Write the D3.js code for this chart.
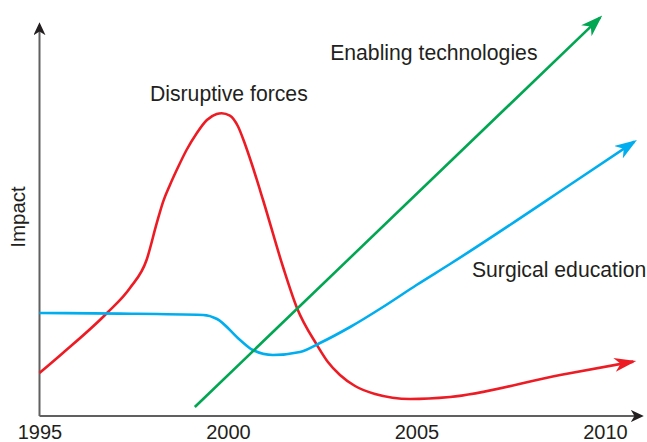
<!DOCTYPE html>
<html>
<head>
<meta charset="utf-8">
<script src="https://cdn.jsdelivr.net/npm/d3@7"></script>
<style>
  body { margin: 0; background: #fff; }
  svg { display: block; }
</style>
</head>
<body>
<div class="chart"></div>
<script>
// values: [year, impact]
const yearTicks = [1995, 2000, 2005, 2010];

const disruptive = [
	[1995.0, 10.75], [1995.62, 15.75], [1996.79, 25.75], [1997.4, 32], [1997.84, 39],
	[1998.11, 48.2], [1998.28, 53.6], [1998.46, 57.75], [1998.68, 62.3], [1998.9, 66.5],
	[1999.17, 70.7], [1999.44, 74], [1999.7, 75.5], [1999.83, 75.7], [2000.05, 75.1],
	[2000.26, 72.5], [2000.45, 68], [2000.64, 62.75], [2000.93, 54], [2001.46, 37.25],
	[2001.83, 27], [2002.36, 17.75], [2002.65, 13.5], [2002.97, 10.25], [2003.37, 7.5],
	[2003.9, 5.5], [2004.83, 4.25], [2005.89, 4.75], [2008.81, 10.25], [2010.75, 13.6]
];

const education = [
	[1995.0, 25.75], [1997.14, 25.6], [1999.34, 25.25], [1999.71, 24.25], [2000.32, 19],
	[2000.66, 16.5], [2001.19, 15.25], [2001.91, 16], [2002.44, 18.25], [2003.24, 22.25],
	[2004.11, 27.25], [2005.0, 32.75], [2005.89, 38], [2009.26, 59], [2010.78, 68.6]
];

const enabling = [[1999.12, 2.25], [2009.87, 99.6]];

const labels = [
	{ text: "Enabling technologies", year: 2002.71, impact: 89 },
	{ text: "Disruptive forces", year: 1997.93, impact: 78.75 },
	{ text: "Surgical education", year: 2006.47, impact: 34.75 }
];

const width = 647, height = 442;

const x = d3.scaleLinear().domain([1995, 2010]).range([39.5, 605]);
const y = d3.scaleLinear().domain([0, 100]).range([416, 16]);

const svg = d3.select(".chart")
	.append("svg")
	.attr("width", width)
	.attr("height", height)
	.attr("viewBox", [0, 0, width, height]);

const defs = svg.append("defs");
function arrow(id, color, len, half) {
	defs.append("marker")
		.attr("id", id)
		.attr("markerUnits", "userSpaceOnUse")
		.attr("viewBox", `0 ${-half} ${len} ${half * 2}`)
		.attr("markerWidth", len)
		.attr("markerHeight", half * 2)
		.attr("refX", len - 3)
		.attr("refY", 0)
		.attr("orient", "auto")
		.append("path")
		.attr("d", `M0,${-half}L${len},0L0,${half}L${len * 0.28},0Z`)
		.attr("fill", color);
}
arrow("a-red", "#ed1c24", 22, 7);
arrow("a-green", "#00a651", 22, 7.5);
arrow("a-blue", "#00aeef", 22, 7.5);
arrow("a-axis", "#231f20", 13, 6);

// axes
const axisColor = "#606060";
svg.append("line")
	.attr("x1", x(1995)).attr("x2", x(2010.95))
	.attr("y1", y(0)).attr("y2", y(0))
	.attr("stroke", axisColor).attr("stroke-width", 2)
	.attr("marker-end", "url(#a-axis)");
svg.append("line")
	.attr("x1", x(1995)).attr("x2", x(1995))
	.attr("y1", y(0)).attr("y2", y(97.7))
	.attr("stroke", axisColor).attr("stroke-width", 2)
	.attr("marker-end", "url(#a-axis)");

svg.append("g")
	.attr("transform", `translate(0,${y(0)})`)
	.call(d3.axisBottom(x).tickValues(yearTicks).tickSize(0).tickPadding(9).tickFormat(d3.format("d")))
	.call(g => g.select(".domain").remove())
	.call(g => g.selectAll("text")
		.attr("fill", "#231f20")
		.style("font", "20px 'Liberation Sans', Arial, sans-serif"));

svg.append("text")
	.attr("transform", `translate(25,${y(49.75)}) rotate(-90)`)
	.attr("text-anchor", "middle")
	.attr("fill", "#231f20")
	.style("font", "20.5px 'Liberation Sans', Arial, sans-serif")
	.text("Impact");

// curves
const line = d3.line()
	.x(d => x(d[0]))
	.y(d => y(d[1]))
	.curve(d3.curveMonotoneX);

const series = [
	{ data: disruptive, color: "#ed1c24", marker: "a-red" },
	{ data: education, color: "#00aeef", marker: "a-blue" },
	{ data: enabling, color: "#00a651", marker: "a-green" }
];

svg.append("g")
	.selectAll("path")
	.data(series)
	.join("path")
	.attr("d", d => line(d.data))
	.attr("fill", "none")
	.attr("stroke", d => d.color)
	.attr("stroke-width", 2.6)
	.attr("marker-end", d => `url(#${d.marker})`);

svg.append("g")
	.attr("fill", "#231f20")
	.style("font", "21.2px 'Liberation Sans', Arial, sans-serif")
	.selectAll("text")
	.data(labels)
	.join("text")
	.attr("x", d => x(d.year))
	.attr("y", d => y(d.impact))
	.attr("text-anchor", "start")
	.text(d => d.text);
</script>
</body>
</html>
